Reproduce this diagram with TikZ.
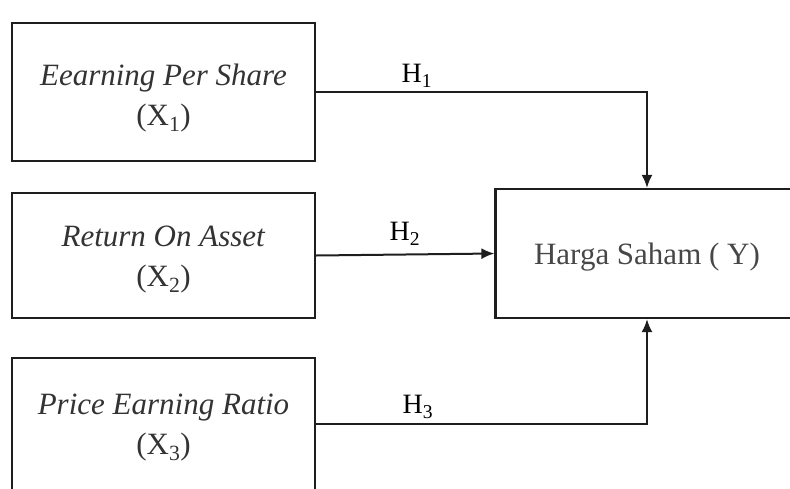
\documentclass[tikz,border=0pt]{standalone}
\usepackage{fontspec}
\setmainfont{Liberation Serif}
\usepackage{tikz}
\usepackage{xcolor}
\usetikzlibrary{arrows.meta}
\usetikzlibrary{shapes}

\definecolor{schrift}{HTML}{333333}
\definecolor{linie}{HTML}{1E1E1E}

\tikzset{
  kasten/.style={draw=linie, line width=2.2pt, rectangle, minimum width=303pt},
  inhalt/.style={align=center, text=schrift, font=\fontsize{31}{40}\selectfont},
  pfeil/.style={draw=linie, line width=2pt, -{Latex[length=13pt,width=11pt]}},
  hyp/.style={text=black, font=\fontsize{28}{30}\selectfont, inner sep=0pt}
}

\begin{document}
\begin{tikzpicture}[x=1pt, y=-1pt]
\useasboundingbox (0,0) rectangle (790,488);
\clip (0,0) rectangle (790,488);
% Unabhaengige Variablen:
\node[kasten, minimum height=138pt] (x1) at (163.5,92) {};
\node[kasten, minimum height=125pt] (x2) at (163.5,255.5) {};
\node[kasten, minimum height=132pt] (x3) at (163.5,424) {};
\node[inhalt] (t1) at ([yshift=-6pt]x1.center) {\textit{Eearning Per Share}\\(X\textsubscript{1})};
\node[inhalt] (t2) at ([yshift=-4pt]x2.center) {\textit{Return On Asset}\\(X\textsubscript{2})};
\node[inhalt] (t3) at ([yshift=-4pt]x3.center) {\textit{Price Earning Ratio}\\(X\textsubscript{3})};
% Abhaengige Variable:
\node[kasten, minimum height=129pt] (y) at (647,253.5) {};
\node[inhalt, text=black!72] (ty) at ([yshift=-4pt]y.center) {Harga Saham ( Y)};
% Hypothesen:
\draw[pfeil] (x1.east) -| (y.north);
\draw[pfeil] (x2.east) -- (y.west);
\draw[pfeil] (x3.east) -| (y.south);
\node[hyp] (h1) at (417,76) {H\textsubscript{1}};
\node[hyp] (h2) at (405,234) {H\textsubscript{2}};
\node[hyp] (h3) at (418,407) {H\textsubscript{3}};
\end{tikzpicture}
\end{document}
